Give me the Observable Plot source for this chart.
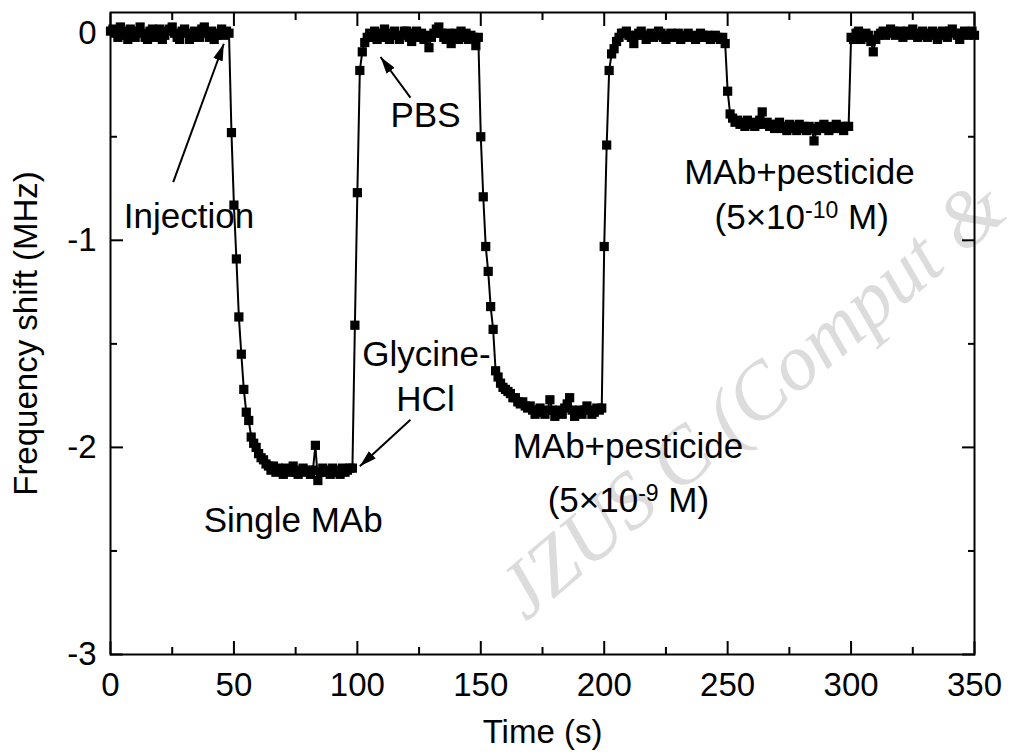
<!DOCTYPE html>
<html>
<head>
<meta charset="utf-8">
<script src="https://cdn.jsdelivr.net/npm/d3@7"></script>
<script src="https://cdn.jsdelivr.net/npm/@observablehq/plot@0.6"></script>
<style>
  html, body { margin: 0; padding: 0; background: #fff; }
  #chart svg { display: block; }
</style>
</head>
<body>
<div id="chart"></div>
<script>
// ---- data (time in s, frequency shift in MHz) ----
const time = [
  0,1,2,3,4,5,6,7,8,9,10,11,12,13,14,15,16,17,18,19,
  20,21,22,23,24,25,26,27,28,29,30,31,32,33,34,35,36,37,38,39,
  40,41,42,43,44,45,46,47,48,49,50,51,52,53,54,55,56,57,58,59,
  60,61,62,63,64,65,66,67,68,69,70,71,72,73,74,75,76,77,78,79,
  80,81,82,83,84,85,86,87,88,89,90,91,92,93,94,95,96,97,98,99,
  100,101,102,103,104,105,106,107,108,109,110,111,112,113,114,115,116,117,118,119,
  120,121,122,123,124,125,126,127,128,129,130,131,132,133,134,135,136,137,138,139,
  140,141,142,143,144,145,146,147,148,149,150,151,152,153,154,155,156,157,158,159,
  160,161,162,163,164,165,166,167,168,169,170,171,172,173,174,175,176,177,178,179,
  180,181,182,183,184,185,186,187,188,189,190,191,192,193,194,195,196,197,198,199,
  200,201,202,203,204,205,206,207,208,209,210,211,212,213,214,215,216,217,218,219,
  220,221,222,223,224,225,226,227,228,229,230,231,232,233,234,235,236,237,238,239,
  240,241,242,243,244,245,246,247,248,249,250,251,252,253,254,255,256,257,258,259,
  260,261,262,263,264,265,266,267,268,269,270,271,272,273,274,275,276,277,278,279,
  280,281,282,283,284,285,286,287,288,289,290,291,292,293,294,295,296,297,298,299,
  300,301,302,303,304,305,306,307,308,309,310,311,312,313,314,315,316,317,318,319,
  320,321,322,323,324,325,326,327,328,329,330,331,332,333,334,335,336,337,338,339,
  340,341,342,343,344,345,346,347,348,349,350
];
const shift = [
  // 0-19
  0.01, 0.02, 0.00, -0.02, 0.03, 0.01, -0.01, -0.03, 0.02, 0.00,
  -0.02, 0.01, 0.03, 0.00, -0.02, -0.03, 0.01, 0.02, -0.02, 0.00,
  // 20-39
  0.02, -0.03, -0.01, 0.01, 0.02, 0.03, 0.00, -0.02, -0.03, 0.01,
  0.02, 0.00, -0.03, -0.02, 0.01, 0.00, -0.02, 0.02, 0.03, 0.00,
  // 40-59
  -0.02, 0.01, -0.03, -0.01, 0.00, 0.02, -0.01, 0.01, 0.00, -0.48,
  -0.83, -1.09, -1.37, -1.55, -1.72, -1.83, -1.87, -1.95, -1.98, -2.00,
  // 60-79
  -2.03, -2.05, -2.06, -2.08, -2.09, -2.11, -2.09, -2.12, -2.10, -2.11,
  -2.13, -2.10, -2.12, -2.11, -2.09, -2.12, -2.13, -2.11, -2.10, -2.12,
  // 80-99
  -2.11, -2.13, -2.11, -1.99, -2.16, -2.12, -2.10, -2.12, -2.11, -2.13,
  -2.10, -2.12, -2.11, -2.13, -2.10, -2.12, -2.11, -2.10, -2.10, -1.41,
  // 100-119
  -0.77, -0.18, -0.09, -0.045, -0.02, 0.00, -0.02, 0.01, -0.03, 0.00,
  -0.02, 0.02, 0.00, -0.03, -0.01, 0.01, -0.01, -0.03, -0.01, 0.01,
  // 120-139
  0.01, -0.02, -0.04, 0.00, 0.01, -0.02, 0.00, -0.03, -0.01, -0.07,
  -0.02, 0.00, 0.02, 0.03, 0.00, -0.02, -0.03, 0.00, -0.05, -0.01,
  // 140-159
  0.00, -0.03, 0.01, -0.02, 0.00, -0.03, -0.01, -0.02, -0.06, -0.02,
  -0.50, -0.79, -1.03, -1.15, -1.32, -1.43, -1.63, -1.66, -1.69, -1.71,
  // 160-179
  -1.72, -1.73, -1.74, -1.76, -1.76, -1.78, -1.79, -1.78, -1.80, -1.81,
  -1.80, -1.82, -1.84, -1.82, -1.81, -1.83, -1.84, -1.82, -1.77, -1.82,
  // 180-199
  -1.85, -1.83, -1.82, -1.84, -1.81, -1.79, -1.76, -1.82, -1.85, -1.83,
  -1.82, -1.84, -1.82, -1.80, -1.82, -1.84, -1.83, -1.81, -1.82, -1.81,
  // 200-219
  -1.03, -0.54, -0.18, -0.10, -0.075, -0.04, -0.02, 0.00, 0.00, 0.01,
  -0.01, -0.02, -0.05, -0.01, 0.00, 0.01, -0.01, -0.03, -0.01, 0.00,
  // 220-239
  -0.02, -0.01, 0.01, 0.00, -0.02, -0.03, -0.01, 0.00, -0.02, -0.01,
  0.00, -0.03, -0.02, -0.01, 0.00, -0.02, -0.01, -0.03, -0.02, 0.00,
  // 240-259
  -0.01, -0.02, -0.01, -0.03, -0.02, -0.01, -0.02, -0.03, -0.02, -0.05,
  -0.28, -0.39, -0.41, -0.43, -0.42, -0.44, -0.43, -0.45, -0.42, -0.44,
  // 260-279
  -0.43, -0.45, -0.44, -0.42, -0.38, -0.44, -0.43, -0.45, -0.44, -0.46,
  -0.44, -0.43, -0.46, -0.45, -0.47, -0.44, -0.46, -0.45, -0.47, -0.44,
  // 280-299
  -0.46, -0.45, -0.47, -0.45, -0.46, -0.52, -0.47, -0.45, -0.46, -0.44,
  -0.46, -0.47, -0.45, -0.46, -0.44, -0.46, -0.45, -0.47, -0.45, -0.45,
  // 300-319
  -0.02, -0.03, 0.00, 0.01, -0.03, -0.02, 0.00, -0.01, -0.04, -0.09,
  -0.03, -0.01, 0.00, 0.01, -0.01, 0.00, 0.02, 0.01, -0.01, 0.00,
  // 320-339
  0.01, -0.02, 0.00, 0.01, -0.01, 0.02, 0.00, -0.02, -0.01, 0.01,
  0.00, -0.02, -0.01, 0.01, 0.00, -0.03, -0.01, 0.01, 0.00, -0.02,
  // 340-350
  0.01, 0.02, 0.00, -0.01, -0.03, 0.00, 0.01, -0.01, 0.00, 0.01,
  -0.01
];

// ---- axis ticks ----
const xMajorTicks = [0, 50, 100, 150, 200, 250, 300, 350];
const xMinorTicks = [25, 75, 125, 175, 225, 275, 325];
const yMajorTicks = [-3, -2, -1, 0];
const yMinorTicks = [-2.5, -1.5, -0.5];
const xTitle = "Time (s)";
const yTitle = "Frequency shift (MHz)";

// ---- annotations (data coordinates) ----
const noteText = ["Injection", "PBS", "Glycine-", "HCl", "Single MAb",
                  "MAb+pesticide", "(5×10^-9 M)", "MAb+pesticide", "(5×10^-10 M)"];
const noteX = [31.8, 127.6, 128.0, 127.6, 74, 209.6, 209.8, 279.1, 280];
const noteY = [-0.885, -0.397, -1.551, -1.769, -2.353, -1.996, -2.26, -0.673, -0.892];

const arrowX1 = [25.4, 121.5, 121.5];
const arrowY1 = [-0.719, -0.311, -1.867];
const arrowX2 = [45.9, 109.4, 101.0];
const arrowY2 = [-0.051, -0.115, -2.091];

const watermarkText = ["JZUS C (Comput &"];
const watermarkX = [161.5];
const watermarkY = [-2.75];

// ---- build tables ----
const data = time.map((t, i) => ({t, v: shift[i]}));
const notes = noteText.map((s, i) => ({s, x: noteX[i], y: noteY[i]}));
const arrows = arrowX1.map((x1, i) => ({x1, y1: arrowY1[i], x2: arrowX2[i], y2: arrowY2[i]}));
const marks = watermarkText.map((s, i) => ({s, x: watermarkX[i], y: watermarkY[i]}));

const fmt = d => `${d}`;
const FONT = "'Liberation Sans', Arial, Helvetica, sans-serif";

const chart = Plot.plot({
  width: 1011,
  height: 754,
  marginLeft: 110,
  marginRight: 37,
  marginTop: 12,
  marginBottom: 100,
  style: {fontFamily: FONT, fontSize: "33px", color: "black", background: "white"},
  x: {domain: [0, 350]},
  y: {domain: [-3, 0.1]},
  marks: [
    // watermark
    Plot.text(marks, {x: "x", y: "y", text: "s", rotate: -40, textAnchor: "start",
      fontSize: 80, fontStyle: "italic", fontFamily: "'Liberation Serif', 'Times New Roman', serif",
      fill: "#dcdcdc"}),
    // axes: bottom
    Plot.axisX({anchor: "bottom", ticks: xMajorTicks, tickSize: -13, tickPadding: 31, tickFormat: fmt,
      fontSize: 33, strokeWidth: 2, label: xTitle, labelAnchor: "center", labelArrow: "none", labelOffset: 88}),
    Plot.axisX({anchor: "bottom", ticks: xMinorTicks, tickSize: -7, fill: "none", strokeWidth: 2, label: null}),
    // axes: top
    Plot.axisX({anchor: "top", ticks: xMajorTicks, tickSize: -13, fill: "none", strokeWidth: 2, label: null}),
    Plot.axisX({anchor: "top", ticks: xMinorTicks, tickSize: -7, fill: "none", strokeWidth: 2, label: null}),
    // axes: left
    Plot.axisY({anchor: "left", ticks: yMajorTicks, tickSize: -13, tickPadding: 27, tickFormat: fmt,
      fontSize: 33, strokeWidth: 2, label: yTitle, labelAnchor: "center", labelArrow: "none", labelOffset: 97}),
    Plot.axisY({anchor: "left", ticks: yMinorTicks, tickSize: -7, fill: "none", strokeWidth: 2, label: null}),
    // axes: right
    Plot.axisY({anchor: "right", ticks: yMajorTicks, tickSize: -13, fill: "none", strokeWidth: 2, label: null}),
    Plot.axisY({anchor: "right", ticks: yMinorTicks, tickSize: -7, fill: "none", strokeWidth: 2, label: null}),
    Plot.frame({stroke: "black", strokeWidth: 2}),
    // data
    Plot.line(data, {x: "t", y: "v", stroke: "black", strokeWidth: 2}),
    Plot.dot(data, {x: "t", y: "v", symbol: "square", r: 5.2, fill: "black", stroke: "none"}),
    // annotations
    Plot.link(arrows, {x1: "x1", y1: "y1", x2: "x2", y2: "y2", stroke: "black", strokeWidth: 2}),
    Plot.text(notes, {x: "x", y: "y", text: "s", fontSize: 35, fill: "black", textAnchor: "middle", lineAnchor: "middle"})
  ]
});

// filled arrowheads on the annotation links
const svg = d3.select(chart);
const defs = svg.insert("defs", ":first-child");
defs.append("marker")
  .attr("id", "arrowhead")
  .attr("viewBox", "0 0 17 10")
  .attr("refX", 17).attr("refY", 5)
  .attr("markerWidth", 17).attr("markerHeight", 10)
  .attr("markerUnits", "userSpaceOnUse")
  .attr("orient", "auto")
  .append("path").attr("d", "M0,0L17,5L0,10Z").attr("fill", "black");
svg.selectAll('g[aria-label="link"] path').attr("marker-end", "url(#arrowhead)");

// superscripts in concentration labels
svg.selectAll("text").each(function () {
  const s = this.textContent;
  const m = s.match(/^(.*)\^(\S+)(.*)$/);
  if (!m) return;
  const el = d3.select(this);
  el.text(null);
  el.append("tspan").text(m[1]);
  el.append("tspan").attr("dy", -11).attr("font-size", 23).text(m[2]);
  el.append("tspan").attr("dy", 11).text(m[3]);
});

document.getElementById("chart").appendChild(chart);
</script>
</body>
</html>
